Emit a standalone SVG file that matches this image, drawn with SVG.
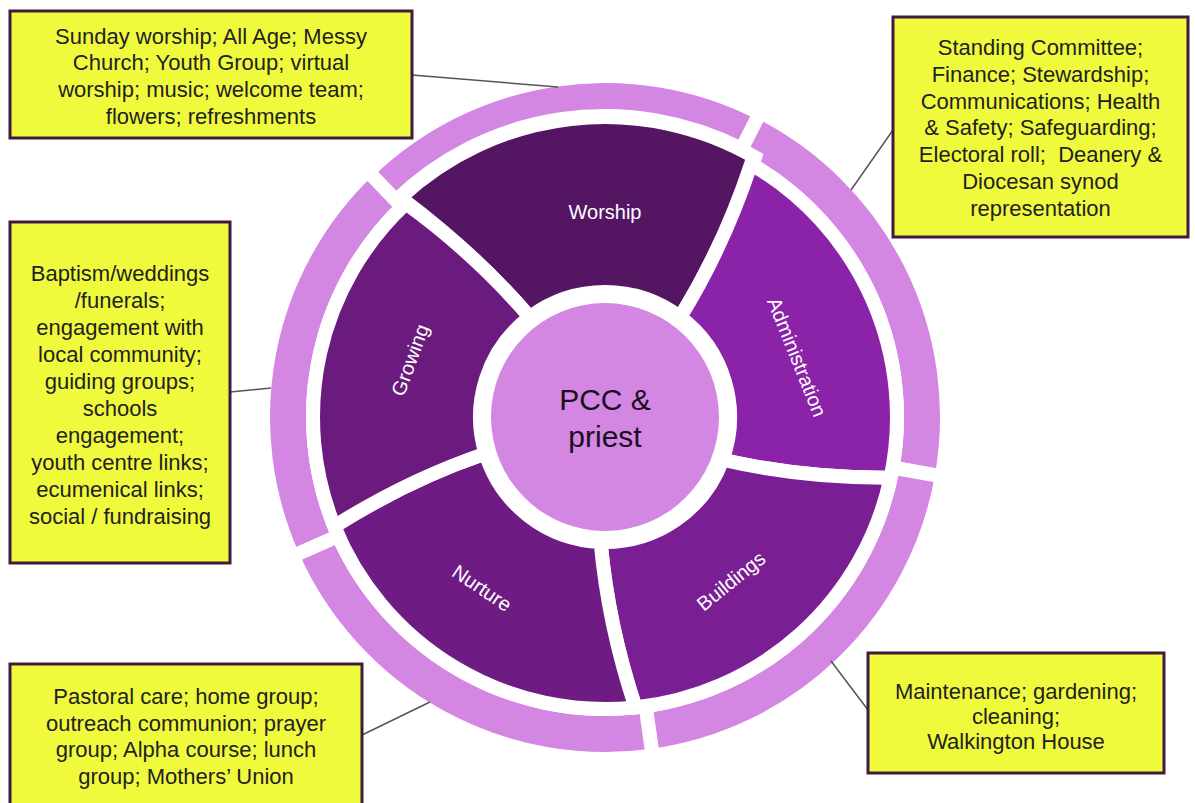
<svg xmlns="http://www.w3.org/2000/svg" width="1195" height="803" viewBox="0 0 1195 803">
<style>
.seg{stroke:#fff;stroke-width:14;stroke-linejoin:miter}
.ring{fill:#d387e2;stroke:#fff;stroke-width:14;stroke-linejoin:miter}
.lbl{font-family:"Liberation Sans",Arial,sans-serif;font-size:20px;fill:#fff;text-anchor:middle}
.box{fill:#f0fa3c;stroke:#3f1c3f;stroke-width:3}
.bt{font-family:"Liberation Sans",Arial,sans-serif;font-size:22px;fill:#222;text-anchor:middle}
.ctr{font-family:"Liberation Sans",Arial,sans-serif;font-size:30px;fill:#1b0f1f;text-anchor:middle}
.con{stroke:#555;stroke-width:1.5;fill:none}
</style>
<rect width="1195" height="803" fill="#fff"/>
<g id="outer-ring">
<path class="ring" d="M 395.9,200.5 A 301 301 0 0 1 741.7,148.8 L 759.8,113.2 A 341 341 0 0 0 368.1,171.7 Z"/>
<path class="ring" d="M 737.6,156.8 A 292 292 0 0 1 892.6,467.7 L 941.8,476.4 A 342 342 0 0 0 760.3,112.3 Z"/>
<path class="ring" d="M 892.6,467.7 A 292 292 0 0 1 645.6,706.2 L 652.6,755.7 A 342 342 0 0 0 941.8,476.4 Z"/>
<path class="ring" d="M 645.6,706.2 A 292 292 0 0 1 338.3,535.8 L 292.6,556.1 A 342 342 0 0 0 652.6,755.7 Z"/>
<path class="ring" d="M 338.3,535.8 A 292 292 0 0 1 402.1,207.0 L 367.4,171.0 A 342 342 0 0 0 292.6,556.1 Z"/>
</g>
<g id="connectors">
<line class="con" x1="412" y1="75" x2="558" y2="87"/>
<line class="con" x1="893" y1="130" x2="851" y2="190"/>
<line class="con" x1="230" y1="392" x2="271" y2="388"/>
<line class="con" x1="362" y1="735" x2="430" y2="702"/>
<line class="con" x1="868" y1="710" x2="831" y2="661"/>
</g>
<g id="worship">
<path class="seg" fill="#541563" d="M 529.8,317.2 Q 475.5,253.9 400.4,197.6 A 300 300 0 0 1 755,157.2 Q 723.9,246.2 680.2,317.2 A 125 125 0 0 0 529.8,317.2 Z"/>
<text class="lbl" x="605" y="219">Worship</text>
</g>
<g id="administration">
<path class="seg" fill="#8b23a8" d="M 680.2,317.2 Q 723.9,246.2 751,164.1 A 292 292 0 0 1 890.6,477.7 Q 803.8,478.4 722.5,459.8 A 125 125 0 0 0 680.2,317.2 Z"/>
<text class="lbl" transform="translate(797,357) rotate(68)" x="0" y="7">Administration</text>
</g>
<g id="buildings">
<path class="seg" fill="#7a1f93" d="M 722.5,459.8 Q 803.8,478.4 890.6,477.7 A 292 292 0 0 1 635.5,707.4 Q 608.1,625.0 600.6,541.9 A 125 125 0 0 0 722.5,459.8 Z"/>
<text class="lbl" transform="translate(731,581) rotate(-39)" x="0" y="7">Buildings</text>
</g>
<g id="nurture">
<path class="seg" fill="#6e1c84" d="M 600.6,541.9 Q 608.1,625.0 635.5,707.4 A 292 292 0 0 1 334.3,526.4 Q 406.6,480.5 485.5,453.5 A 125 125 0 0 0 600.6,541.9 Z"/>
<text class="lbl" transform="translate(482,588) rotate(34)" x="0" y="7">Nurture</text>
</g>
<g id="growing">
<path class="seg" fill="#6a1b7d" d="M 485.5,453.5 Q 406.6,480.5 334.3,526.4 A 292 292 0 0 1 405.9,203.4 Q 475.5,253.9 529.8,317.2 A 125 125 0 0 0 485.5,453.5 Z"/>
<text class="lbl" transform="translate(410,360) rotate(-70)" x="0" y="7">Growing</text>
</g>
<g id="pcc-priest">
<circle cx="605" cy="417" r="114" fill="#d387e2"/>
<text class="ctr" x="605" y="410">PCC &amp;</text>
<text class="ctr" x="605" y="447">priest</text>
</g>
<g id="box-worship">
<rect class="box" x="10" y="11" width="402" height="127"/>
<text class="bt"><tspan x="211" y="43.5">Sunday worship; All Age; Messy</tspan><tspan x="211" y="70.2">Church; Youth Group; virtual</tspan><tspan x="211" y="96.9">worship; music; welcome team;</tspan><tspan x="211" y="123.6">flowers; refreshments</tspan></text>
</g>
<g id="box-administration">
<rect class="box" x="893" y="17" width="295" height="220"/>
<text class="bt"><tspan x="1040.5" y="55.3">Standing Committee;</tspan><tspan x="1040.5" y="82">Finance; Stewardship;</tspan><tspan x="1040.5" y="108.7">Communications; Health</tspan><tspan x="1040.5" y="135.4">&amp; Safety; Safeguarding;</tspan><tspan x="1040.5" y="162.1">Electoral roll;&#160; Deanery &amp;</tspan><tspan x="1040.5" y="188.8">Diocesan synod</tspan><tspan x="1040.5" y="215.5">representation</tspan></text>
</g>
<g id="box-growing">
<rect class="box" x="10" y="222" width="220" height="341"/>
<text class="bt"><tspan x="120" y="281">Baptism/weddings</tspan><tspan x="120" y="308">/funerals;</tspan><tspan x="120" y="335">engagement with</tspan><tspan x="120" y="362">local community;</tspan><tspan x="120" y="389">guiding groups;</tspan><tspan x="120" y="416">schools</tspan><tspan x="120" y="443">engagement;</tspan><tspan x="120" y="470">youth centre links;</tspan><tspan x="120" y="497">ecumenical links;</tspan><tspan x="120" y="524">social / fundraising</tspan></text>
</g>
<g id="box-nurture">
<rect class="box" x="10" y="664" width="352" height="150"/>
<text class="bt"><tspan x="186" y="704">Pastoral care; home group;</tspan><tspan x="186" y="730.7">outreach communion; prayer</tspan><tspan x="186" y="757.4">group; Alpha course; lunch</tspan><tspan x="186" y="784">group; Mothers’ Union</tspan></text>
</g>
<g id="box-buildings">
<rect class="box" x="868" y="653" width="296" height="120"/>
<text class="bt"><tspan x="1016" y="698.5">Maintenance; gardening;</tspan><tspan x="1016" y="723.5">cleaning;</tspan><tspan x="1016" y="748.5">Walkington House</tspan></text>
</g>
</svg>
